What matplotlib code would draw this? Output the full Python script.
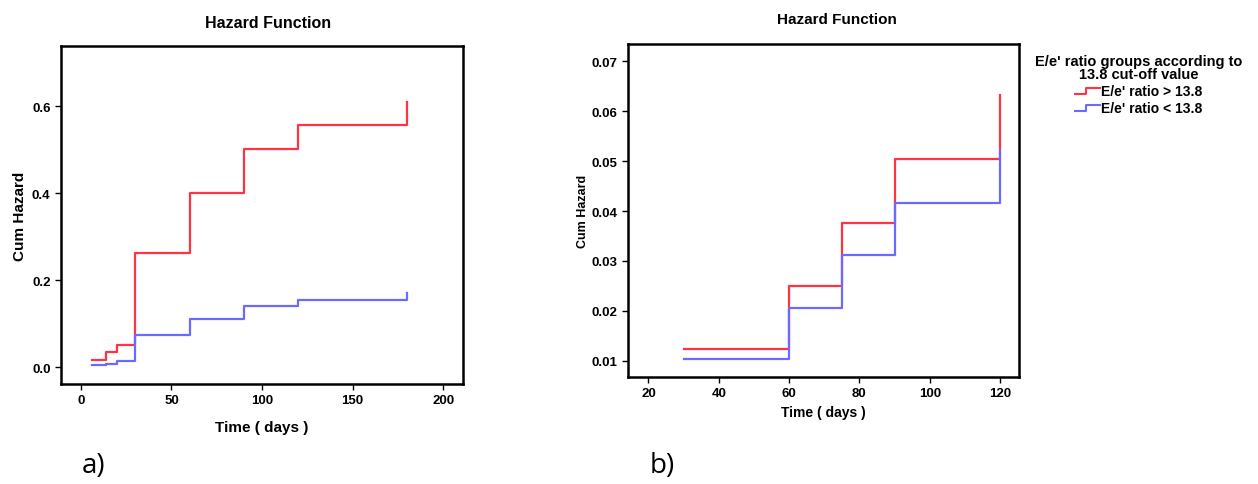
import matplotlib.pyplot as plt
from matplotlib.lines import Line2D
from matplotlib.legend_handler import HandlerBase

plt.rcParams['font.family'] = ['Liberation Sans', 'DejaVu Sans']

# Data - panel a
time_a = [6, 14, 20, 30, 60, 90, 120, 180]
high_a = [0.017, 0.035, 0.052, 0.262, 0.400, 0.503, 0.557, 0.611]
low_a = [0.005, 0.009, 0.014, 0.074, 0.112, 0.141, 0.156, 0.171]

# Data - panel b
time_b = [30, 60, 75, 90, 120]
high_b = [0.0124, 0.0250, 0.0376, 0.0505, 0.0633]
low_b = [0.0103, 0.0206, 0.0311, 0.0417, 0.0523]

xticks_a = [0, 50, 100, 150, 200]
yticks_a = [0.0, 0.2, 0.4, 0.6]
xticks_b = [20, 40, 60, 80, 100, 120]
yticks_b = [0.01, 0.02, 0.03, 0.04, 0.05, 0.06, 0.07]

legend_labels = ["E/e' ratio > 13.8", "E/e' ratio < 13.8"]
legend_title = "E/e' ratio groups according to\n13.8 cut-off value"

red = '#ff3344'
blue = '#6a6aff'


class StepHandler(HandlerBase):
    # small step-shaped legend icon like SPSS
    def create_artists(self, legend, orig_handle, xdescent, ydescent,
                       width, height, fontsize, trans):
        xs = [0, width * 0.45, width * 0.45, width]
        ys = [height * 0.1, height * 0.1, height * 0.9, height * 0.9]
        line = Line2D(xs, ys, color=orig_handle.get_color(), lw=1.5, transform=trans)
        return [line]


fig = plt.figure(figsize=(12.58, 4.85), dpi=100)
W, H = 1258, 485


def add_axes(x0, y0, x1, y1):
    return fig.add_axes([x0 / W, 1 - y1 / H, (x1 - x0) / W, (y1 - y0) / H])


ax1 = add_axes(61, 47, 463, 385)
ax2 = add_axes(628, 45, 1019, 378)

for ax in (ax1, ax2):
    for s in ax.spines.values():
        s.set_linewidth(1.8)
    ax.tick_params(direction='out', length=4, width=1, labelsize=9.5, top=False, right=False)

ax1.step(time_a, high_a, where='post', color=red, lw=1.6)
ax1.step(time_a, low_a, where='post', color=blue, lw=1.6)
ax1.set_xlim(-11, 211)
ax1.set_ylim(-0.038, 0.739)
ax1.set_xticks(xticks_a)
ax1.set_yticks(yticks_a)
ax1.set_xticklabels([str(v) for v in xticks_a], fontweight='bold')
ax1.set_yticklabels(['%.1f' % v for v in yticks_a], fontweight='bold')
ax1.set_title('Hazard Function', fontsize=11.5, fontweight='bold', pad=14)
ax1.title.set_x(0.515)
ax1.set_xlabel('Time ( days )', fontsize=11, fontweight='bold', labelpad=10)
ax1.set_ylabel('Cum Hazard', fontsize=11, fontweight='bold', labelpad=3.5)

ax2.step(time_b, high_b, where='post', color=red, lw=1.6)
ax2.step(time_b, low_b, where='post', color=blue, lw=1.6)
ax2.set_xlim(14.2, 125.4)
ax2.set_ylim(0.00673, 0.0735)
ax2.set_xticks(xticks_b)
ax2.set_yticks(yticks_b)
ax2.set_xticklabels([str(v) for v in xticks_b], fontweight='bold')
ax2.set_yticklabels(['%.2f' % v for v in yticks_b], fontweight='bold')
ax2.set_title('Hazard Function', fontsize=11, fontweight='bold', pad=15)
ax2.title.set_x(0.535)
ax2.set_xlabel('Time ( days )', fontsize=10, fontweight='bold', labelpad=4)
ax2.set_ylabel('Cum Hazard', fontsize=9, fontweight='bold', labelpad=2)

handles = [Line2D([], [], color=red), Line2D([], [], color=blue)]
leg = fig.legend(handles, legend_labels, title=legend_title,
                 handler_map={Line2D: StepHandler()},
                 loc='upper left', bbox_to_anchor=(1025 / W, 1 - 45 / H),
                 frameon=False, fontsize=10, handlelength=1.8, handleheight=0.5,
                 handletextpad=0.1, labelspacing=0.2, borderpad=0.2)
leg.get_title().set_fontweight('bold')
leg.get_title().set_fontsize(10.5)
leg.get_title().set_multialignment('center')
leg.get_title().set_linespacing(0.95)
for t in leg.get_texts():
    t.set_fontweight('bold')

fig.text(82 / W, 1 - 466 / H, 'a)', fontsize=20, va='center', family=['Open Sans', 'DejaVu Sans'])
fig.text(650 / W, 1 - 466 / H, 'b)', fontsize=20, va='center', family=['Open Sans', 'DejaVu Sans'])

fig.savefig('out.png', dpi=100)
